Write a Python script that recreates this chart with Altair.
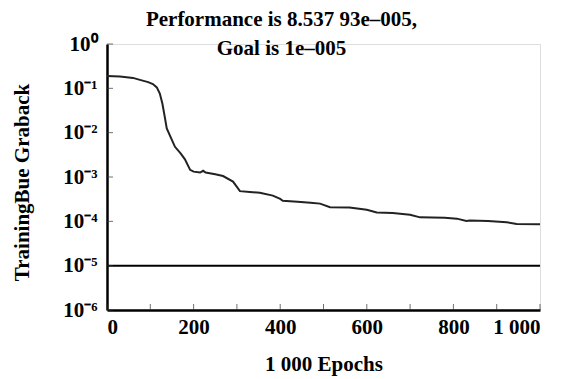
import altair as alt
import pandas as pd

# Training curve
epochs = [0, 30, 60, 76, 95, 106, 115, 122, 128, 133, 138, 148, 157, 170, 180, 192,
          200, 215, 222, 228, 250, 268, 291, 300, 307, 330, 353, 383, 400, 406, 440,
          470, 492, 515, 560, 600, 623, 660, 700, 723, 780, 808, 830, 838, 880, 923,
          946, 1000]
performance = [0.19, 0.186, 0.172, 0.155, 0.138, 0.125, 0.105, 0.076, 0.045, 0.024,
               0.0125, 0.0075, 0.0048, 0.0034, 0.0025, 0.00145, 0.00132, 0.00126,
               0.00138, 0.00126, 0.00115, 0.00105, 0.00079, 0.0006, 0.00048, 0.00046,
               0.00044, 0.00038, 0.00032, 0.00029, 0.000275, 0.000263, 0.000251,
               0.000209, 0.000204, 0.000182, 0.000158, 0.000155, 0.000141, 0.000123,
               0.00012, 0.000115, 0.000102, 0.000105, 0.000102, 0.0000955, 0.0000871,
               0.0000854]
goal = 1e-5
x_ticks = [0, 100, 200, 300, 400, 500, 600, 700, 800, 900, 1000]
x_labels = [0, 200, 400, 600, 800, 1000]
y_ticks = [1, 0.1, 0.01, 0.001, 0.0001, 0.00001, 0.000001]
title_lines = ["Performance is 8.537 93e–005,", "Goal is 1e–005"]
x_title = "1 000 Epochs"
y_title = "TrainingBue Graback"

W, H = 433, 266
FONT = "Liberation Serif"

df = pd.DataFrame({"epoch": epochs, "perf": performance})
xt = pd.DataFrame({"x": x_ticks})
yt = pd.DataFrame({"y": y_ticks})

xscale = alt.Scale(domain=[0, 1000], nice=False)
yscale = alt.Scale(type="log", domain=[1e-6, 1], nice=False)

sup = "['⁰','⁻¹','⁻²','⁻³','⁻⁴','⁻⁵','⁻⁶']"

curve = alt.Chart(df).mark_line(color="#222222", strokeWidth=2).encode(
    x=alt.X("epoch:Q", scale=xscale,
            axis=alt.Axis(values=x_labels, title=x_title, ticks=False, grid=False,
                          domainColor="black", domainWidth=2.5,
                          labelFont=FONT, labelFontSize=21, labelFontWeight="bold",
                          labelColor="black", labelPadding=6,
                          labelExpr="datum.value == 1000 ? '1 000' : datum.label",
                          titleFont=FONT, titleFontSize=21, titleFontWeight="bold",
                          titleColor="black", titleY=54, titleBaseline="middle")),
    y=alt.Y("perf:Q", scale=yscale,
            axis=alt.Axis(values=y_ticks, title=y_title, ticks=False, grid=False,
                          domainColor="black", domainWidth=2.5,
                          labelFont=FONT, labelFontSize=21, labelFontWeight="bold",
                          labelColor="black", labelPadding=10,
                          labelExpr="'10' + " + sup + "[round(-log(datum.value)/LN10)]",
                          titleFont=FONT, titleFontSize=21, titleFontWeight="bold",
                          titleColor="black", titleX=-85, titleY=138,
                          titleBaseline="middle", titleAlign="center")),
)

goal_line = alt.Chart(pd.DataFrame({"g": [goal]})).mark_rule(
    color="black", strokeWidth=2
).encode(y=alt.Y("g:Q", scale=yscale), x=alt.datum(0), x2=alt.datum(1000))

xtick_marks = alt.Chart(xt).mark_tick(
    orient="vertical", size=6, thickness=1, color="#333"
).encode(x=alt.X("x:Q", scale=xscale), y=alt.value(H - 3))

ytick_marks = alt.Chart(yt).mark_tick(
    orient="horizontal", size=6, thickness=1, color="#333"
).encode(y=alt.Y("y:Q", scale=yscale), x=alt.value(3))

chart = alt.layer(curve, goal_line, xtick_marks, ytick_marks).properties(
    width=W, height=H,
    title=alt.TitleParams(text=title_lines, font=FONT, fontSize=21, fontWeight="bold",
                          color="black", anchor="middle", dx=-42, lineHeight=29,
                          offset=-26),
    autosize=alt.AutoSizeParams(type="none"),
    padding={"left": 99, "top": 36, "right": 25, "bottom": 71},
).configure_view(stroke=None).configure(background="white")

chart.save("out.html", embed_options={"renderer": "svg", "actions": False})
